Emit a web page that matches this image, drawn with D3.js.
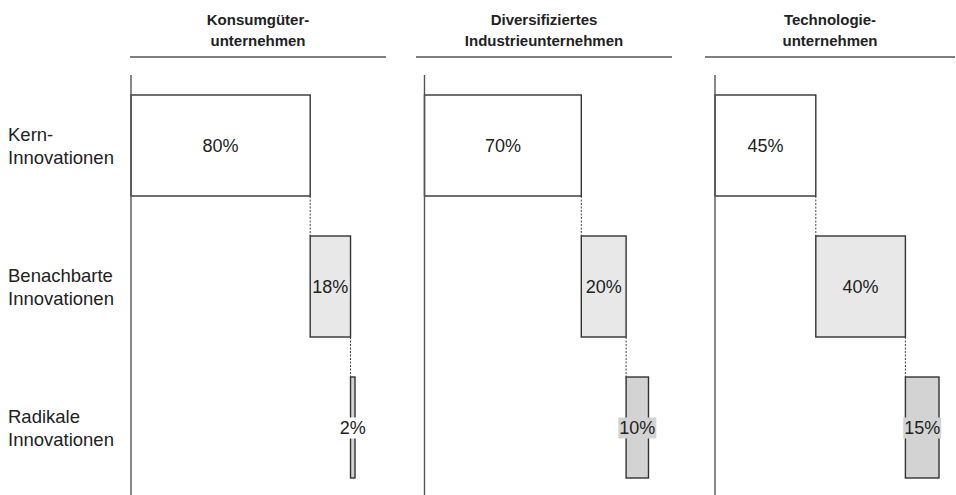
<!DOCTYPE html>
<html>
<head>
<meta charset="utf-8">
<script src="https://cdn.jsdelivr.net/npm/d3@7"></script>
<style>
  html, body { margin: 0; padding: 0; background: #fff; }
  svg { display: block; font-family: "Liberation Sans", Arial, sans-serif; }
</style>
</head>
<body>
<svg id="chart" width="956" height="495"></svg>
<script>
// Innovation categories (rows)
const categories = ["Kern", "Benachbart", "Radikal"];
const categoryLabels = [["Kern-", "Innovationen"], ["Benachbarte", "Innovationen"], ["Radikale", "Innovationen"]];

// Company types (panels)
const companies = [["Konsumgüter-", "unternehmen"], ["Diversifiziertes", "Industrieunternehmen"], ["Technologie-", "unternehmen"]];

// Share of innovation budget per category, in percent
const consumerValues = [80, 18, 2];
const industrialValues = [70, 20, 10];
const technologyValues = [45, 40, 15];
const seriesValues = [consumerValues, industrialValues, technologyValues];

const barFills = ["#ffffff", "#e8e8e8", "#d3d3d3"];
const ink = "#222";
const stroke = "#333";

const svg = d3.select("#chart");

// panel geometry: axis x position and header rule extent
const panels = [
  { axisX: 131, ruleX0: 130, ruleX1: 386 },
  { axisX: 424.5, ruleX0: 416, ruleX1: 672 },
  { axisX: 715, ruleX0: 705, ruleX1: 955 }
];

const y = d3.scaleBand()
  .domain(categories)
  .range([75, 498])
  .paddingInner(40 / 141)
  .paddingOuter(20 / 141);

// row labels
categoryLabels.forEach((lines, i) => {
  const cy = y(categories[i]) + y.bandwidth() / 2 + 1;
  const t = svg.append("text")
    .attr("x", 8)
    .attr("y", cy - 11.5)
    .attr("font-size", 18.5)
    .attr("fill", ink);
  lines.forEach((ln, j) => {
    t.append("tspan").attr("x", 8).attr("dy", j === 0 ? "0.35em" : 23).text(ln);
  });
});

const pxPerHundred = 224;

seriesValues.forEach((vals, p) => {
  const pn = panels[p];
  const x = d3.scaleLinear().domain([0, 100]).range([pn.axisX, pn.axisX + pxPerHundred]);
  const g = svg.append("g");

  // header
  const cx = (pn.ruleX0 + pn.ruleX1) / 2;
  const ht = g.append("text")
    .attr("text-anchor", "middle")
    .attr("font-weight", "bold")
    .attr("font-size", 15)
    .attr("fill", ink)
    .attr("y", 25);
  companies[p].forEach((ln, j) => {
    ht.append("tspan").attr("x", cx).attr("dy", j === 0 ? 0 : 21).text(ln);
  });
  g.append("line")
    .attr("x1", pn.ruleX0).attr("x2", pn.ruleX1)
    .attr("y1", 57).attr("y2", 57)
    .attr("stroke", "#555").attr("stroke-width", 1.3);

  // cumulative starts
  const starts = [];
  let acc = 0;
  vals.forEach(v => { starts.push(acc); acc += v; });

  // dashed connectors
  vals.forEach((v, i) => {
    if (i === 0) return;
    const xe = x(starts[i]);
    g.append("line")
      .attr("x1", xe).attr("x2", xe)
      .attr("y1", y(categories[i - 1]) + y.bandwidth())
      .attr("y2", y(categories[i]))
      .attr("stroke", "#444").attr("stroke-width", 1)
      .attr("stroke-dasharray", "2,1.5");
  });

  // bars
  g.selectAll("rect.bar")
    .data(vals)
    .join("rect")
    .attr("class", "bar")
    .attr("x", (d, i) => x(starts[i]))
    .attr("y", (d, i) => y(categories[i]))
    .attr("width", d => x(d) - x(0))
    .attr("height", y.bandwidth())
    .attr("fill", (d, i) => barFills[i])
    .attr("stroke", stroke)
    .attr("stroke-width", 1.4);

  // value labels with backing box (white when the bar is far too thin to hold it)
  vals.forEach((v, i) => {
    const lx = (x(starts[i]) + x(starts[i] + v)) / 2;
    const ly = y(categories[i]) + y.bandwidth() / 2;
    const lbl = g.append("g");
    const bg = lbl.append("rect");
    const t = lbl.append("text")
      .attr("x", lx).attr("y", ly)
      .attr("text-anchor", "middle")
      .attr("dy", "0.36em")
      .attr("font-size", 18)
      .attr("fill", ink)
      .text(v + "%");
    const bb = t.node().getBBox();
    const barW = x(v) - x(0);
    const bgFill = barW < bb.width / 2 ? "#ffffff" : barFills[i];
    if (barFills[i] !== "#ffffff") {
      bg.attr("x", bb.x - 1).attr("y", bb.y - 0.5)
        .attr("width", bb.width + 2).attr("height", bb.height + 1)
        .attr("fill", bgFill);
    } else {
      bg.remove();
    }
  });

  // vertical axis line
  g.append("line")
    .attr("x1", pn.axisX).attr("x2", pn.axisX)
    .attr("y1", 75).attr("y2", 495)
    .attr("stroke", "#555").attr("stroke-width", 1.4);
});
</script>
</body>
</html>
